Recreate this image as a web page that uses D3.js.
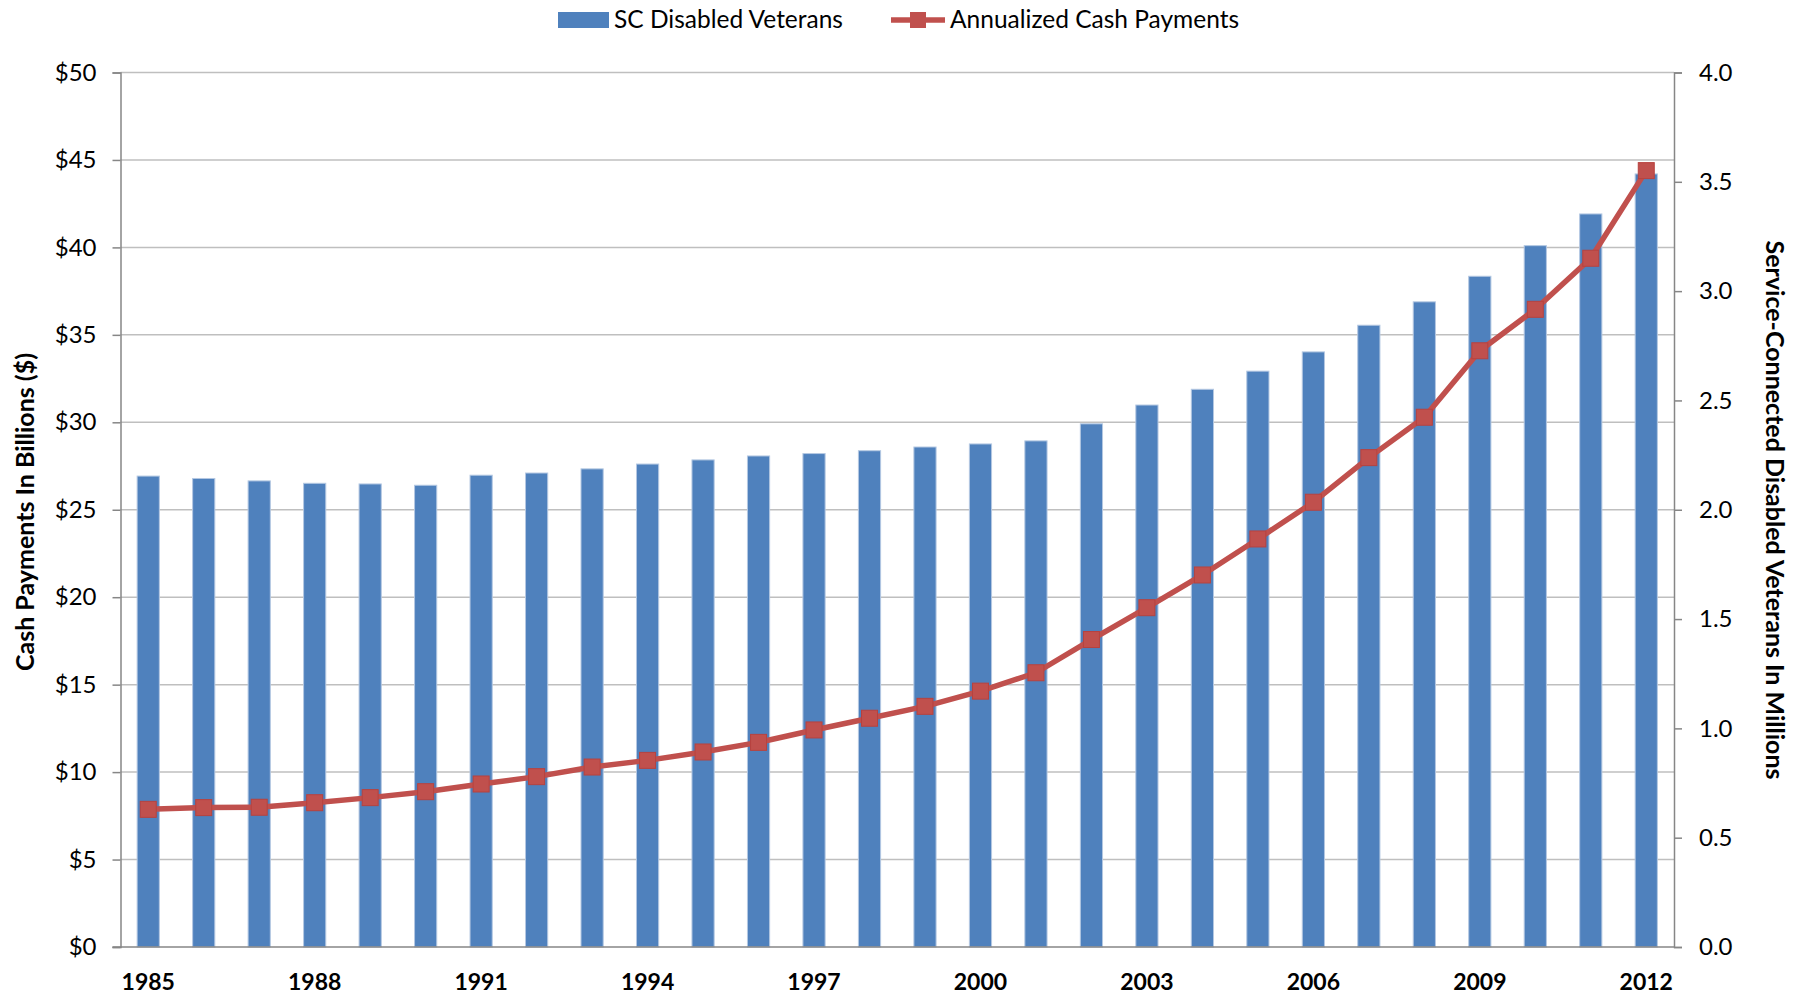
<!DOCTYPE html>
<html>
<head>
<meta charset="utf-8">
<script src="https://cdn.jsdelivr.net/npm/d3@7"></script>
<style>
  body { margin: 0; background: #fff; }
  svg { display: block; font-family: Lato, "Open Sans", sans-serif; }
</style>
</head>
<body>
<svg id="chart" width="1800" height="994"></svg>
<script>
// data
const years = [1985, 1986, 1987, 1988, 1989, 1990, 1991, 1992, 1993, 1994,
  1995, 1996, 1997, 1998, 1999, 2000, 2001, 2002, 2003, 2004,
  2005, 2006, 2007, 2008, 2009, 2010, 2011, 2012];

// SC disabled veterans, millions (right axis)
const veterans = [2.154, 2.143, 2.132, 2.121, 2.118, 2.112, 2.158, 2.168, 2.187, 2.209,
  2.228, 2.246, 2.257, 2.270, 2.287, 2.301, 2.315, 2.393, 2.479, 2.551,
  2.634, 2.722, 2.844, 2.951, 3.068, 3.208, 3.353, 3.536];

// annualized cash payments, billions $ (left axis)
const payments = [7.87, 7.97, 7.99, 8.25, 8.54, 8.88, 9.32, 9.74, 10.29, 10.67,
  11.15, 11.70, 12.41, 13.08, 13.76, 14.63, 15.68, 17.58, 19.40, 21.27,
  23.33, 25.43, 27.98, 30.29, 34.09, 36.46, 39.38, 44.39];

const yearLabels = [1985, 1988, 1991, 1994, 1997, 2000, 2003, 2006, 2009, 2012];
const leftTicks = [0, 5, 10, 15, 20, 25, 30, 35, 40, 45, 50];
const rightTicks = [0, 0.5, 1, 1.5, 2, 2.5, 3, 3.5, 4];

const barColor = "#4F81BD";
const lineColor = "#C0504D";
const axisColor = "#868686";
const gridColor = "#BFBFBF";

const plotLeft = 120.5, plotRight = 1674, plotTop = 72.5, plotBottom = 947;

const svg = d3.select("#chart");

const x = d3.scaleBand()
  .domain(years)
  .range([plotLeft, plotRight])
  .paddingInner(0.6)
  .paddingOuter(0.3);

const yL = d3.scaleLinear().domain([0, 50]).range([plotBottom, plotTop]);
const yR = d3.scaleLinear().domain([0, 4]).range([plotBottom, plotTop]);

// gridlines
svg.append("g")
  .selectAll("line")
  .data(leftTicks.filter(d => d > 0))
  .enter()
  .append("line")
  .attr("x1", plotLeft).attr("x2", plotRight)
  .attr("y1", d => yL(d)).attr("y2", d => yL(d))
  .attr("stroke", gridColor)
  .attr("stroke-width", 1.5);

// bars
svg.append("g")
  .selectAll("rect")
  .data(years)
  .enter()
  .append("rect")
  .attr("x", d => x(d))
  .attr("y", (d, i) => yR(veterans[i]))
  .attr("width", x.bandwidth())
  .attr("height", (d, i) => plotBottom - yR(veterans[i]))
  .attr("fill", barColor)
  .attr("stroke", "#B4C8E2")
  .attr("stroke-width", 1);

// left axis
const axL = svg.append("g")
  .attr("transform", `translate(${plotLeft},0)`)
  .call(d3.axisLeft(yL).tickValues(leftTicks).tickSize(8).tickPadding(16).tickFormat(d => "$" + d));

// right axis
const axR = svg.append("g")
  .attr("transform", `translate(${plotRight},0)`)
  .call(d3.axisRight(yR).tickValues(rightTicks).tickSize(8).tickPadding(17).tickFormat(d3.format(".1f")));

[axL, axR].forEach(ax => {
  ax.select(".domain").attr("stroke", axisColor).attr("stroke-width", 1.5);
  ax.selectAll(".tick line").attr("stroke", axisColor).attr("stroke-width", 1.5);
  ax.selectAll(".tick text")
    .attr("font-size", "24px")
    .attr("font-family", "Lato, sans-serif")
    .attr("fill", "#000");
});

// bottom axis line
svg.append("line")
  .attr("x1", plotLeft - 8).attr("x2", plotRight)
  .attr("y1", plotBottom).attr("y2", plotBottom)
  .attr("stroke", axisColor)
  .attr("stroke-width", 1.5);

// year labels
svg.append("g")
  .selectAll("text")
  .data(yearLabels)
  .enter()
  .append("text")
  .attr("x", d => x(d) + x.bandwidth() / 2)
  .attr("y", 990)
  .attr("text-anchor", "middle")
  .attr("font-size", "23px")
  .attr("font-weight", "bold")
  .text(d => d);

// line
const line = d3.line()
  .x((d, i) => x(years[i]) + x.bandwidth() / 2)
  .y(d => yL(d));

svg.append("path")
  .datum(payments)
  .attr("d", line)
  .attr("fill", "none")
  .attr("stroke", lineColor)
  .attr("stroke-width", 5.5)
  .attr("stroke-linejoin", "round");

const m = 16;
svg.append("g")
  .selectAll("rect")
  .data(payments)
  .enter()
  .append("rect")
  .attr("x", (d, i) => x(years[i]) + x.bandwidth() / 2 - m / 2)
  .attr("y", d => yL(d) - m / 2)
  .attr("width", m)
  .attr("height", m)
  .attr("fill", lineColor)
  .attr("stroke", "#B7423F")
  .attr("stroke-width", 1);

// axis titles
svg.append("text")
  .attr("transform", "translate(34,512) rotate(-90)")
  .attr("text-anchor", "middle")
  .attr("font-size", "25px")
  .attr("font-weight", "bold")
  .text("Cash Payments In Billions ($)");

svg.append("text")
  .attr("transform", "translate(1766,510) rotate(90)")
  .attr("text-anchor", "middle")
  .attr("font-size", "25px")
  .attr("font-weight", "bold")
  .text("Service-Connected Disabled Veterans In Millions");

// legend
const legend = svg.append("g");
legend.append("rect")
  .attr("x", 558).attr("y", 12)
  .attr("width", 51).attr("height", 16)
  .attr("fill", barColor);
legend.append("text")
  .attr("x", 614).attr("y", 28)
  .attr("font-size", "24.5px")
  .text("SC Disabled Veterans");

legend.append("line")
  .attr("x1", 891).attr("x2", 945)
  .attr("y1", 20).attr("y2", 20)
  .attr("stroke", lineColor)
  .attr("stroke-width", 5.5);
legend.append("rect")
  .attr("x", 918 - m / 2).attr("y", 20 - m / 2)
  .attr("width", m).attr("height", m)
  .attr("fill", lineColor);
legend.append("text")
  .attr("x", 950).attr("y", 28)
  .attr("font-size", "24.5px")
  .text("Annualized Cash Payments");
</script>
</body>
</html>
